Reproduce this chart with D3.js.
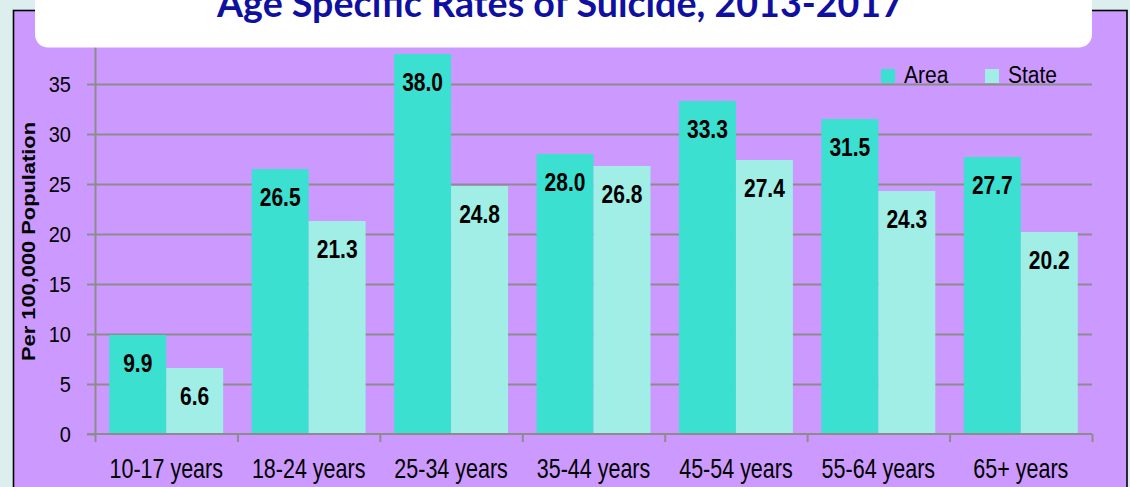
<!DOCTYPE html>
<html>
<head>
<meta charset="utf-8">
<script src="https://cdn.jsdelivr.net/npm/d3@7"></script>
<style>
  body { margin: 0; background: #dcefee; }
  svg { display: block; }
</style>
</head>
<body>
<svg></svg>
<script>
// ---- data ----
const ageGroups = ["10-17 years", "18-24 years", "25-34 years", "35-44 years", "45-54 years", "55-64 years", "65+ years"];
const areaRates = [9.9, 26.5, 38.0, 28.0, 33.3, 31.5, 27.7];
const stateRates = [6.6, 21.3, 24.8, 26.8, 27.4, 24.3, 20.2];
const seriesNames = ["Area", "State"];
const seriesColors = ["#3be0d0", "#a0eee6"];
const yTicks = [0, 5, 10, 15, 20, 25, 30, 35, 40];
const chartTitle = "Age Specific Rates of Suicide, 2013-2017";
const yTitle = "Per 100,000 Population";

const size = { w: 1130, h: 487 };
const plot = { l: 95, r: 1092, t: 34, b: 434 };
const font = "'Liberation Sans', Arial, sans-serif";

const svg = d3.select("svg").attr("width", size.w).attr("height", size.h);

// background panel
svg.append("rect")
  .attr("x", 13.5).attr("y", 10.5)
  .attr("width", 1113.5).attr("height", 500)
  .attr("fill", "#cc99ff")
  .attr("stroke", "#000").attr("stroke-width", 1.6);

// scales
const x0 = d3.scaleBand().domain(ageGroups).range([plot.l, plot.r]).padding(0);
const x1 = d3.scaleBand().domain(seriesNames).range([0, x0.bandwidth()])
  .paddingInner(0).paddingOuter(0.25);
const y = d3.scaleLinear().domain([0, 40]).range([plot.b, plot.t]);
const color = d3.scaleOrdinal().domain(seriesNames).range(seriesColors);

// gridlines
const grid = svg.append("g")
  .attr("transform", `translate(${plot.l},0)`)
  .call(d3.axisLeft(y).tickValues(yTicks.slice(1)).tickSize(-(plot.r - plot.l)).tickFormat(""));
grid.select(".domain").remove();
grid.selectAll("line").attr("stroke", "#8c8c8c").attr("stroke-width", 2);

// y axis
const yAxis = svg.append("g")
  .attr("transform", `translate(${plot.l},0)`)
  .call(d3.axisLeft(y).tickValues(yTicks).tickSize(8).tickSizeOuter(0));
yAxis.select(".domain").attr("stroke", "#8c8c8c").attr("stroke-width", 2);
yAxis.selectAll("line").attr("stroke", "#8c8c8c").attr("stroke-width", 2);
yAxis.selectAll("text")
  .attr("x", 0).attr("dy", null)
  .attr("transform", "translate(-24,7.7) scale(1,1.1)")
  .attr("text-anchor", "end")
  .style("font-family", font).style("font-size", "20px").attr("fill", "#000");

// bars
const rows = ageGroups.map((g, i) => ({ group: g, values: [areaRates[i], stateRates[i]] }));
const groups = svg.append("g").selectAll("g")
  .data(rows).join("g")
  .attr("transform", (d) => `translate(${x0(d.group)},0)`);

groups.selectAll("rect")
  .data((d) => d.values.map((v, j) => ({ key: seriesNames[j], value: v })))
  .join("rect")
  .attr("x", (d) => x1(d.key))
  .attr("y", (d) => y(d.value))
  .attr("width", x1.bandwidth())
  .attr("height", (d) => y(0) - y(d.value))
  .attr("fill", (d) => color(d.key));

groups.selectAll("text")
  .data((d) => d.values.map((v, j) => ({ key: seriesNames[j], value: v })))
  .join("text")
  .attr("transform", (d) => `translate(${x1(d.key) + x1.bandwidth() / 2},${y(d.value) + 37}) scale(1,1.22)`)
  .attr("text-anchor", "middle")
  .style("font-family", font).style("font-size", "21px").style("font-weight", "bold")
  .text((d) => d.value.toFixed(1));

// x axis: boundary ticks
const xIdx = d3.scaleLinear().domain([0, ageGroups.length]).range([plot.l, plot.r]);
const xAxis = svg.append("g")
  .attr("transform", `translate(0,${plot.b})`)
  .call(d3.axisBottom(xIdx).ticks(ageGroups.length).tickSize(8).tickSizeOuter(0).tickFormat(""));
xAxis.select(".domain").attr("d", `M${plot.l - 8},0H${plot.r}`)
  .attr("stroke", "#8c8c8c").attr("stroke-width", 2);
xAxis.selectAll("line").attr("stroke", "#8c8c8c").attr("stroke-width", 2);

// x labels
svg.append("g").selectAll("text")
  .data(ageGroups).join("text")
  .attr("transform", (d) => `translate(${x0(d) + x0.bandwidth() / 2},478) scale(1,1.3)`)
  .attr("text-anchor", "middle")
  .style("font-family", font).style("font-size", "21.5px")
  .text((d) => d);

// y title
svg.append("text")
  .attr("transform", "translate(35,241.5) rotate(-90) scale(1.2,1)")
  .attr("text-anchor", "middle")
  .style("font-family", font).style("font-size", "18.2px").style("font-weight", "bold")
  .text(yTitle);

// legend
const legendX = [881, 985];
const legend = svg.append("g").selectAll("g")
  .data(seriesNames).join("g")
  .attr("transform", (d, i) => `translate(${legendX[i]},69)`);
legend.append("rect").attr("width", 14).attr("height", 14).attr("fill", (d) => color(d));
legend.append("text")
  .attr("transform", "translate(23,14) scale(1,1.14)")
  .style("font-family", font).style("font-size", "21px")
  .text((d) => d);

// title box
svg.append("rect")
  .attr("x", 35).attr("y", -20)
  .attr("width", 1092 - 35).attr("height", 67.5)
  .attr("rx", 13)
  .attr("fill", "#fff");

svg.append("text")
  .attr("transform", "translate(217,16.5) scale(1,1.2)")
  .attr("textLength", 686).attr("lengthAdjust", "spacingAndGlyphs")
  .style("font-family", "Lato, 'Open Sans', sans-serif").style("font-size", "31px").style("font-weight", "bold")
  .attr("fill", "#1010a0")
  .text(chartTitle);
</script>
</body>
</html>
